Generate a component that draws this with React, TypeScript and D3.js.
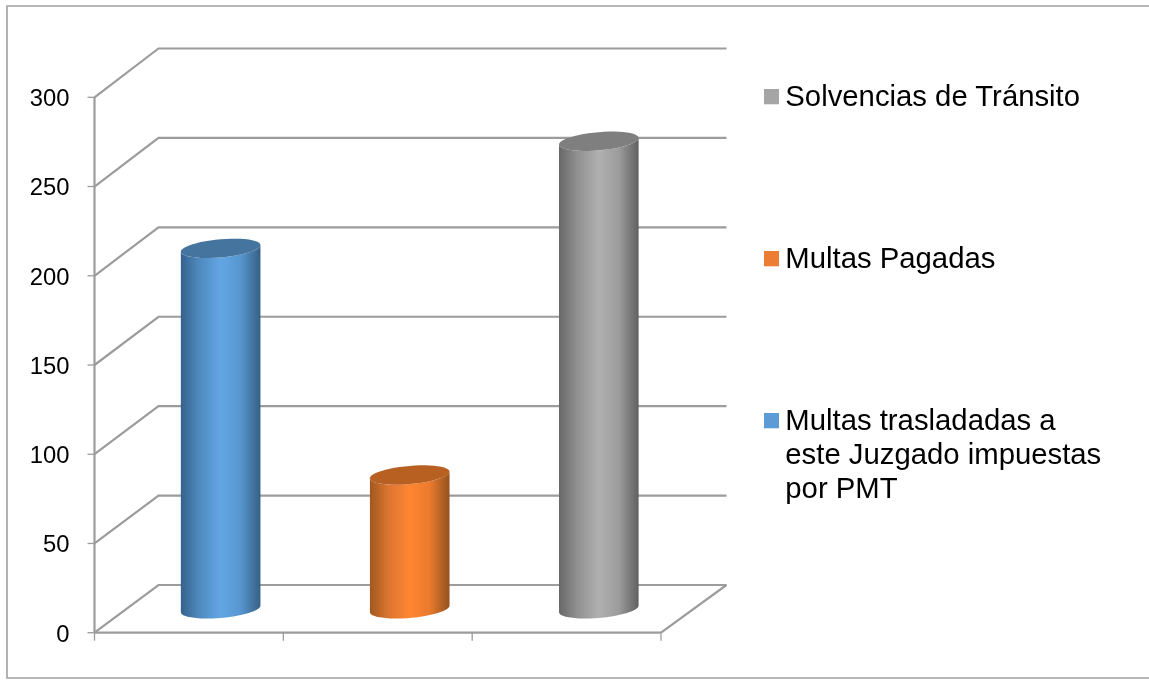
import React from "react";
import * as d3 from "d3";

const categories = ["Multas trasladadas a este Juzgado impuestas por PMT", "Multas Pagadas", "Solvencias de Tránsito"];
const values = [202, 75, 262];
const tickValues = [0, 50, 100, 150, 200, 250, 300];
const sideStops = [
  ["#34628c", "#4e88bd", "#62a6e4", "#5796d0", "#375f84"],
  ["#a05820", "#d97430", "#ff8630", "#ea7a2e", "#94521e"],
  ["#676767", "#8f8f8f", "#b0b0b0", "#9c9c9c", "#606060"],
];
const capColors = ["#44759f", "#b86022", "#7f7f7f"];
const swatchColors = ["#5b9bd5", "#ed7d31", "#a5a5a5"];
const legendOrder = [2, 1, 0];
const legendLines = [["Solvencias de Tránsito"], ["Multas Pagadas"], ["Multas trasladadas a", "este Juzgado impuestas", "por PMT"]];
const legendBaselines = [[106], [268.3], [429.5, 464, 497.5]];
const legendSwatchY = [89, 251, 413];

const WIDTH = 1149;
const HEIGHT = 680;
const FONT = "'Liberation Sans', Arial, sans-serif";
const GRID = "#9c9c9c";

const x = d3.scaleLinear().domain([0, 3]).range([94.5, 661]);
const y = d3.scaleLinear().domain([0, 300]).range([632.7, 97.3]);
const xBack = d3.scaleLinear().domain([0, 3]).range([158.5, 726.5]);
const yBack = d3.scaleLinear().domain([0, 300]).range([585, 48.5]);
const barRx = 39.8;

function ring(cx: number, cy: number, from: number, to: number) {
  const n = 48;
  return d3.range(n + 1).map((i) => {
    const t = from + ((to - from) * i) / n;
    return [cx + barRx * Math.cos(t), cy - 3.3 * Math.cos(t) + 9.1 * Math.sin(t)] as [number, number];
  });
}

export default function App() {
  const line = d3.line();
  return (
    <svg width={WIDTH} height={HEIGHT} style={{ position: "absolute", left: 0, top: 0, background: "#fff" }} fontFamily={FONT}>
      <defs>
        {sideStops.map((stops, i) => (
          <linearGradient key={i} id={`side${i}`} x1="0" x2="1" y1="0" y2="0">
            {stops.map((c, j) => (
              <stop key={j} offset={[0, 0.22, 0.5, 0.75, 1][j]} stopColor={c} />
            ))}
          </linearGradient>
        ))}
        <filter id="soft" x="0" y="0" width="100%" height="100%">
          <feGaussianBlur stdDeviation={0.35} />
        </filter>
      </defs>
      <g filter="url(#soft)">
        <rect x={0} y={0} width={WIDTH} height={HEIGHT} fill="#fff" />
        <path d={`M${WIDTH + 5},6 H7 V678 H${WIDTH + 5}`} fill="none" stroke="#a0a0a0" strokeWidth={1.6} />

        {tickValues.map((v) => (
          <g key={v}>
            <path
              d={line([
                [x(0), y(v)],
                [xBack(0), yBack(v)],
                [xBack(3), yBack(v)],
              ])!}
              fill="none"
              stroke={GRID}
              strokeWidth={2.2}
            />
            <line x1={x(0) - 7} x2={x(0)} y1={y(v)} y2={y(v)} stroke={GRID} strokeWidth={1.3} />
            <text x={69.5} y={y(v) + 8.8} fontSize={23.8} textAnchor="end" fill="#000">
              {v}
            </text>
          </g>
        ))}
        <line x1={x(3)} x2={xBack(3)} y1={y(0)} y2={yBack(0)} stroke={GRID} strokeWidth={2.2} />
        <line x1={x(0)} x2={x(0)} y1={y(300)} y2={y(0)} stroke={GRID} strokeWidth={2.2} />
        <line x1={x(0)} x2={x(3)} y1={y(0)} y2={y(0)} stroke={GRID} strokeWidth={2.2} />
        {[0, 1, 2, 3].map((i) => (
          <line key={i} x1={x(i)} x2={x(i)} y1={y(0)} y2={y(0) + 8} stroke={GRID} strokeWidth={1.3} />
        ))}

        {values.map((v, i) => {
          const cx = (x(i + 0.5) + xBack(i + 0.5)) / 2 - 0.4;
          const y0 = (y(0) + yBack(0)) / 2;
          const top = y0 - (y(0) - y(v));
          const body = [...ring(cx, y0, 0, Math.PI), ...ring(cx, top, Math.PI, 0)];
          return (
            <g key={i}>
              <path d={line(body)! + "Z"} fill={`url(#side${i})`} />
              <path d={line(ring(cx, top, 0, 2 * Math.PI))! + "Z"} fill={capColors[i]} />
            </g>
          );
        })}

        {legendOrder.map((c, i) => (
          <g key={c}>
            <rect x={764} y={legendSwatchY[i]} width={15} height={15.3} fill={swatchColors[c]} />
            {legendLines[i].map((t, j) => (
              <text key={j} x={785.3} y={legendBaselines[i][j]} fontSize={29.3} fill="#000">
                {t}
              </text>
            ))}
          </g>
        ))}
      </g>
    </svg>
  );
}
